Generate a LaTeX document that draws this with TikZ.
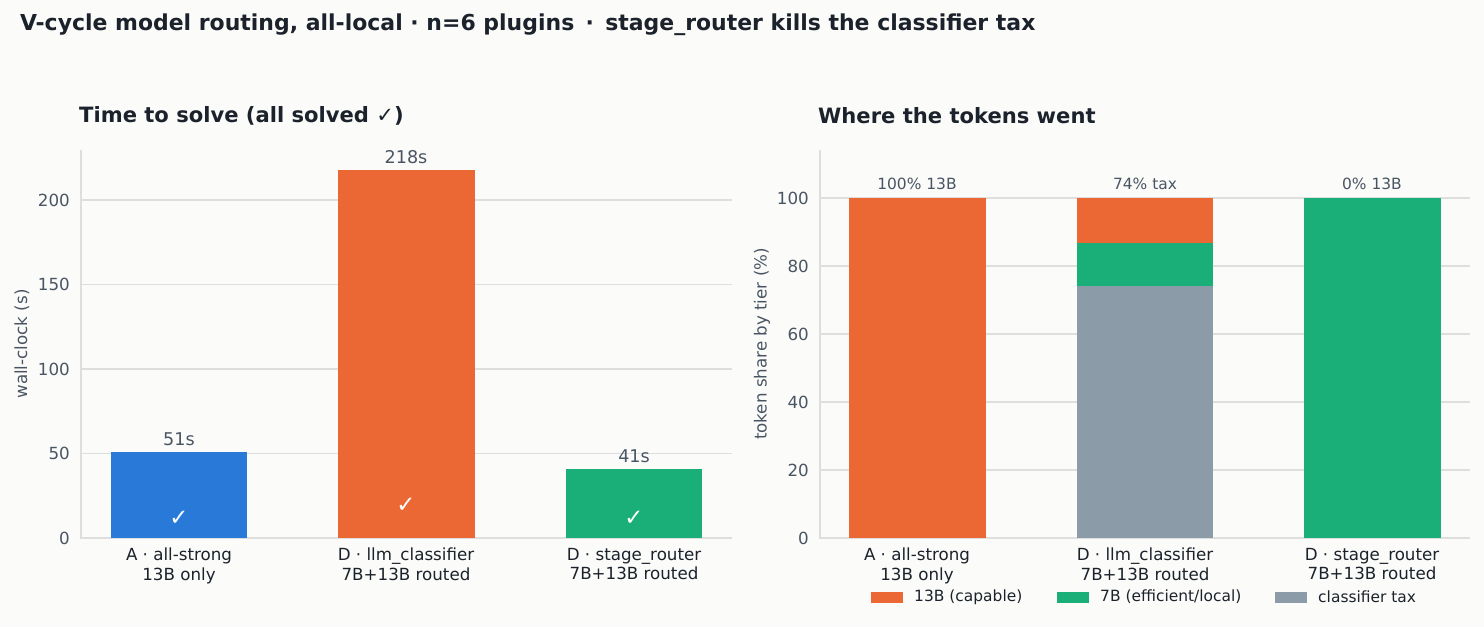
\documentclass[tikz,border=0pt]{standalone}
\usepackage{fontspec}
\setmainfont{DejaVu Sans}
\usetikzlibrary{positioning}
\definecolor{bgPaper}{HTML}{FBFBF9}
\definecolor{inkDark}{HTML}{1B222B}
\definecolor{inkSlate}{HTML}{4A5563}
\definecolor{gridGray}{HTML}{DEDEDE}
\definecolor{tierStrong}{HTML}{EB6835}
\definecolor{tierLocal}{HTML}{1AAF79}
\definecolor{tierTax}{HTML}{8C9BA8}
\definecolor{runBlue}{HTML}{2979D9}

\begin{document}
\begin{tikzpicture}[
    x=0.02cm, y=-0.02cm,
    tick/.style={font=\fontsize{9.5}{11}\selectfont, text=inkSlate},
    xtick/.style={font=\fontsize{9.5}{11}\selectfont, text=inkDark, align=center, anchor=north},
    barlabel/.style={font=\fontsize{10}{12}\selectfont, text=inkSlate, anchor=south},
    sharelabel/.style={font=\fontsize{8.8}{11}\selectfont, text=inkSlate, anchor=south},
    panel/.style={font=\bfseries\fontsize{12}{14}\selectfont, text=inkDark, anchor=west},
    axis/.style={draw=gridGray, line width=0.6pt},
    grid/.style={draw=gridGray, line width=0.6pt},
    check/.style={text=white, font=\fontsize{13}{14}\selectfont},
    legend/.style={font=\fontsize{8.8}{11}\selectfont, text=inkDark, anchor=west}
]
\fill[bgPaper] (0,0) rectangle (1484,627);

\node[font=\bfseries\fontsize{12.5}{15}\selectfont, text=inkDark, anchor=west] (title) at (14,25)
  {V-cycle model routing, all-local · n=6 plugins \,·\, stage\_router kills the classifier tax};

% left panel: wall-clock
\node[panel] (timeTitle) at (73,116) {Time to solve (all solved ✓)};
\foreach \v in {50,100,150,200} {
  \draw[grid] (81,{538-1.69*\v}) -- (732,{538-1.69*\v});
}
\foreach \v in {0,50,100,150,200} {
  \node[tick, anchor=east] (tl\v) at (76,{538-1.69*\v}) {\v};
}
\draw[axis] (81,150) -- (81,538) -- (732,538);
\node[tick, rotate=90] (timeAxis) at (22,344) {wall-clock (s)};

\fill[runBlue]    (111,538) rectangle (247,{538-1.69*51});
\fill[tierStrong] (338,538) rectangle (475,{538-1.69*218});
\fill[tierLocal]  (566,538) rectangle (702,{538-1.69*41});
\node[barlabel] (tA) at (179,{538-1.69*51}) {51s};
\node[barlabel] (tD) at (406,{538-1.69*218}) {218s};
\node[barlabel] (tS) at (634,{538-1.69*41}) {41s};
\node[check] (cA) at (179,518) {✓};
\node[check] (cD) at (406,505) {✓};
\node[check] (cS) at (634,518) {✓};
\node[xtick] (xA) at (179,542) {A · all-strong\\13B only};
\node[xtick] (xD) at (406,542) {D · llm\_classifier\\7B+13B routed};
\node[xtick] (xS) at (634,542) {D · stage\_router\\7B+13B routed};

% right panel: token share
\node[panel] (shareTitle) at (812,116) {Where the tokens went};
\foreach \v in {20,40,60,80,100} {
  \draw[grid] (820,{538-3.4*\v}) -- (1470,{538-3.4*\v});
}
\foreach \v in {0,20,40,60,80,100} {
  \node[tick, anchor=east] (sl\v) at (815,{538-3.4*\v}) {\v};
}
\draw[axis] (820,150) -- (820,538) -- (1470,538);
\node[tick, rotate=90] (shareAxis) at (762,344) {token share by tier (\%)};

\fill[tierStrong] (849,538) rectangle (986,198);
\fill[tierTax]    (1077,538) rectangle (1213,{538-3.4*74});
\fill[tierLocal]  (1077,{538-3.4*74}) rectangle (1213,{538-3.4*86.7});
\fill[tierStrong] (1077,{538-3.4*86.7}) rectangle (1213,198);
\fill[tierLocal]  (1304,538) rectangle (1441,198);
\node[sharelabel] (pA) at (917,196) {100\% 13B};
\node[sharelabel] (pD) at (1145,196) {74\% tax};
\node[sharelabel] (pS) at (1372,196) {0\% 13B};
\node[xtick] (yA) at (917,542) {A · all-strong\\13B only};
\node[xtick] (yD) at (1145,542) {D · llm\_classifier\\7B+13B routed};
\node[xtick] (yS) at (1372,542) {D · stage\_router\\7B+13B routed};

% legend
\fill[tierStrong] (871,592) rectangle (903,603);
\node[legend] (lgStrong) at (908,597) {13B (capable)};
\fill[tierLocal] (1057,592) rectangle (1089,603);
\node[legend] (lgLocal) at (1094,597) {7B (efficient/local)};
\fill[tierTax] (1275,592) rectangle (1307,603);
\node[legend] (lgTax) at (1312,597) {classifier tax};
\end{tikzpicture}
\end{document}
